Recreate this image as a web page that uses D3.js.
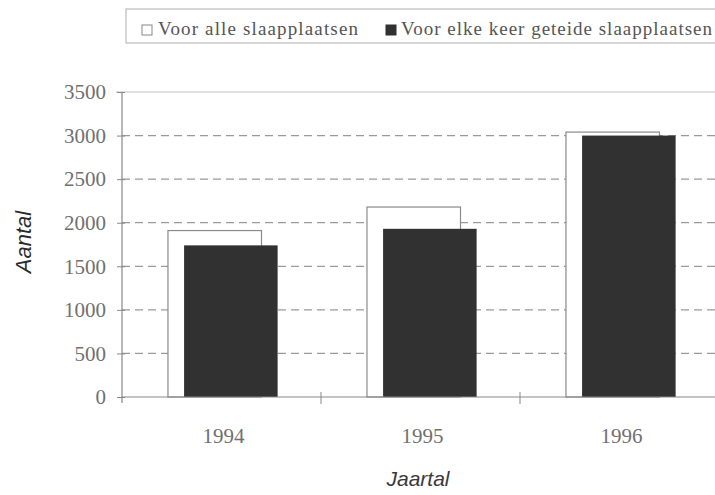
<!DOCTYPE html>
<html>
<head>
<meta charset="utf-8">
<script src="https://cdn.jsdelivr.net/npm/d3@7"></script>
<style>
  body { margin: 0; background: #fff; }
  svg { display: block; }
</style>
</head>
<body>
<div id="chart"></div>
<script>
const years = ["1994", "1995", "1996"];
const series = ["Voor alle slaapplaatsen", "Voor elke keer geteide slaapplaatsen"];
const alleValues = [1910, 2180, 3040];
const elkeValues = [1740, 1930, 3000];
const yTicks = [0, 500, 1000, 1500, 2000, 2500, 3000, 3500];

const W = 715, H = 495;
const plotLeft = 122, plotBottom = 397, plotTop = 92;

const svg = d3.select("#chart").append("svg")
  .attr("width", W)
  .attr("height", H);

const x = d3.scaleBand().domain(years).range([plotLeft, plotLeft + 199 * 3]).padding(0);
const y = d3.scaleLinear().domain([0, 3500]).range([plotBottom, plotTop]);
const bw = x.bandwidth();
const barW = bw * 0.47;

// grid lines
svg.append("g")
  .selectAll("line")
  .data(yTicks.filter(d => d > 0 && d < 3500))
  .join("line")
  .attr("x1", plotLeft)
  .attr("x2", W)
  .attr("y1", d => y(d))
  .attr("y2", d => y(d))
  .attr("stroke", "#9a9a9a")
  .attr("stroke-width", 1.2)
  .attr("stroke-dasharray", "8,5");

// top border
svg.append("line")
  .attr("x1", plotLeft - 6).attr("x2", W)
  .attr("y1", y(3500)).attr("y2", y(3500))
  .attr("stroke", "#c4c4c4").attr("stroke-width", 1.2);

// bars
const g = svg.append("g");
g.selectAll("rect.alle")
  .data(alleValues)
  .join("rect")
  .attr("class", "alle")
  .attr("x", (d, i) => x(years[i]) + bw * 0.231)
  .attr("y", d => y(d))
  .attr("width", barW)
  .attr("height", d => plotBottom - y(d))
  .attr("fill", "#fff")
  .attr("stroke", "#8a8a8a")
  .attr("stroke-width", 1.2);

g.selectAll("rect.elke")
  .data(elkeValues)
  .join("rect")
  .attr("class", "elke")
  .attr("x", (d, i) => x(years[i]) + bw * 0.312)
  .attr("y", d => y(d))
  .attr("width", barW)
  .attr("height", d => plotBottom - y(d))
  .attr("fill", "#313131");

// y axis
const yAxis = svg.append("g")
  .attr("transform", `translate(${plotLeft},0)`)
  .call(d3.axisLeft(y).tickValues(yTicks).tickFormat(d3.format("d"))
    .tickSize(5).tickSizeOuter(0).tickPadding(11));
yAxis.select(".domain").attr("stroke", "#888").attr("stroke-width", 1.2)
  .attr("d", `M0,${plotTop}V${plotBottom + 6}`);
yAxis.selectAll(".tick line").attr("stroke", "#888").attr("x1", 3);
yAxis.selectAll(".tick text")
  .attr("fill", "#707070")
  .style("font-family", "'Liberation Serif', serif")
  .style("font-size", "21px");

// x axis
const xAxis = svg.append("g")
  .attr("transform", `translate(0,${plotBottom})`)
  .call(d3.axisBottom(x).tickSize(0).tickPadding(31));
xAxis.select(".domain").attr("stroke", "#888").attr("stroke-width", 1.2)
  .attr("d", `M${plotLeft},0H${W}`);
xAxis.selectAll(".tick text")
  .attr("fill", "#707070")
  .attr("dx", 2)
  .style("font-family", "'Liberation Serif', serif")
  .style("font-size", "21px");
xAxis.selectAll("line.sep")
  .data(years.slice(1))
  .join("line")
  .attr("class", "sep")
  .attr("x1", d => x(d)).attr("x2", d => x(d))
  .attr("y1", -5).attr("y2", 7)
  .attr("stroke", "#888");

// axis titles
svg.append("text")
  .attr("transform", "translate(31,242) rotate(-90)")
  .attr("text-anchor", "middle")
  .style("font-family", "'Liberation Sans', sans-serif")
  .style("font-style", "italic")
  .style("font-size", "22px")
  .attr("fill", "#2a2a2a")
  .text("Aantal");

svg.append("text")
  .attr("x", 418)
  .attr("y", 486)
  .attr("text-anchor", "middle")
  .style("font-family", "'Liberation Sans', sans-serif")
  .style("font-style", "italic")
  .style("font-size", "21px")
  .attr("fill", "#3a3a3a")
  .text("Jaartal");

// legend
const legend = svg.append("g");
legend.append("rect")
  .attr("x", 126).attr("y", 9)
  .attr("width", 600).attr("height", 34)
  .attr("fill", "#fff")
  .attr("stroke", "#bbb")
  .attr("stroke-width", 1.2);

const legItems = [
  { name: series[0], sx: 142, tx: 158, w: 200, fill: "#fff" },
  { name: series[1], sx: 386, tx: 401, w: 311, fill: "#313131" }
];
legItems.forEach(it => {
  legend.append("rect")
    .attr("x", it.sx).attr("y", 25)
    .attr("width", 10).attr("height", 10)
    .attr("fill", it.fill)
    .attr("stroke", it.fill === "#fff" ? "#888" : "#313131");
  legend.append("text")
    .attr("x", it.tx).attr("y", 35)
    .attr("textLength", it.w)
    .attr("lengthAdjust", "spacing")
    .style("font-family", "'Liberation Serif', serif")
    .style("font-size", "19px")
    .attr("fill", "#555")
    .text(it.name);
});
</script>
</body>
</html>
